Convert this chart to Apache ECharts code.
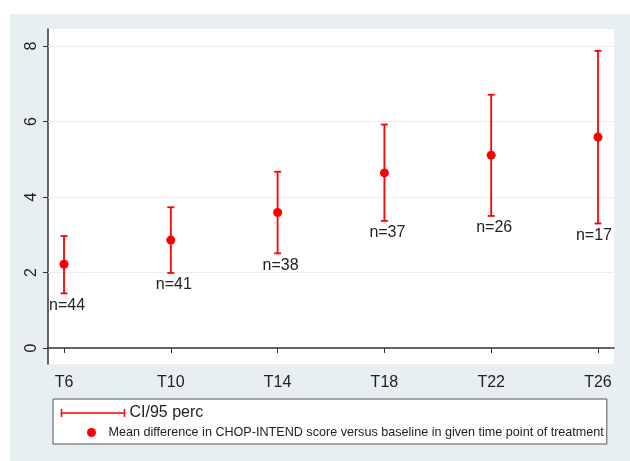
<!DOCTYPE html>
<html>
<head>
<meta charset="utf-8">
<script src="https://cdn.jsdelivr.net/npm/echarts@6/dist/echarts.min.js"></script>
<style>
html, body { margin: 0; padding: 0; background: #fff; }
#main { width: 630px; height: 461px; }
</style>
</head>
<body>
<div id="main"></div>
<script>
// time points (weeks) and values
var timePoints = [6, 10, 14, 18, 22, 26];
var meanDiff = [2.22, 2.86, 3.59, 4.64, 5.11, 5.59];
var ciLow = [1.45, 1.99, 2.51, 3.37, 3.50, 3.30];
var ciHigh = [2.97, 3.73, 4.67, 5.92, 6.71, 7.87];
var counts = [44, 41, 38, 37, 26, 17];
var yTicks = [0, 2, 4, 6, 8];
var gridValues = [2, 4, 6, 8];

var RED = '#ff0000';
var TXT = '#222';
var FONT = '"Liberation Sans", Arial, sans-serif';
var ciName = 'CI/95 perc';
var meanName = 'Mean difference in CHOP-INTEND score versus baseline in given time point of treatment';

var ciData = timePoints.map(function (t, i) { return [t, ciLow[i], ciHigh[i], counts[i]]; });
var meanData = timePoints.map(function (t, i) { return [t, meanDiff[i]]; });

var myChart = echarts.init(document.getElementById('main'));
myChart.setOption({
    animation: false,
    textStyle: { fontFamily: FONT },
    graphic: [{
        type: 'rect', left: 10, top: 14, z: -10,
        shape: { width: 620, height: 447 },
        style: { fill: '#e8eff2' }
    }],
    grid: {
        left: 48, right: 16, top: 29, bottom: 97,
        show: true, backgroundColor: '#fff', borderWidth: 0
    },
    xAxis: {
        type: 'value', min: 5.4, max: 26.6,
        splitLine: { show: false },
        axisLine: { lineStyle: { color: '#333', width: 1.5 } },
        axisTick: { show: true, length: 5, customValues: timePoints, lineStyle: { color: '#333' } },
        axisLabel: {
            customValues: timePoints, margin: 11, fontSize: 16, color: TXT, fontFamily: FONT,
            formatter: function (v) { return 'T' + v; }
        }
    },
    yAxis: {
        type: 'value', min: -0.42, max: 8.45,
        splitLine: { show: false },
        axisLine: { show: true, lineStyle: { color: '#333', width: 1.5 } },
        axisTick: { show: true, length: 5, customValues: yTicks, lineStyle: { color: '#333' } },
        axisLabel: { customValues: yTicks, rotate: 90, margin: 8, fontSize: 16, color: TXT, fontFamily: FONT }
    },
    legend: [{
        left: 59, top: 405, padding: 0,
        itemWidth: 63, itemHeight: 8,
        textStyle: { fontSize: 16, color: TXT, fontFamily: FONT },
        data: [{
            name: ciName,
            icon: 'path://M0,4L63,4M0,0L0,8M63,0L63,8',
            itemStyle: { color: 'none', borderColor: RED, borderWidth: 1.5 }
        }]
    }, {
        left: 53, top: 399, padding: [27, 3, 5, 34],
        backgroundColor: '#fff', borderColor: '#555', borderWidth: 1, borderRadius: 0,
        itemWidth: 24, itemHeight: 9, symbolKeepAspect: true,
        textStyle: { fontSize: 12.6, color: TXT, fontFamily: FONT },
        z: 1,
        data: [{ name: meanName, icon: 'circle' }]
    }],
    series: [{
        name: ciName,
        type: 'custom',
        z: 2,
        encode: { x: 0, y: [1, 2] },
        itemStyle: { color: RED },
        data: ciData,
        renderItem: function (params, api) {
            var x = api.value(0);
            var hi = api.coord([x, api.value(2)]);
            var lo = api.coord([x, api.value(1)]);
            var cap = 3.5;
            var st = { stroke: RED, lineWidth: 1.8 };
            // keep the n= label inside the plot area
            var right = params.coordSys.x + params.coordSys.width;
            var tx = lo[0] + 3, align = 'center';
            if (tx + 18 > right) { tx = right - 2; align = 'right'; }
            return {
                type: 'group',
                children: [
                    { type: 'line', shape: { x1: hi[0], y1: hi[1], x2: lo[0], y2: lo[1] }, style: st },
                    { type: 'line', shape: { x1: hi[0] - cap, y1: hi[1], x2: hi[0] + cap, y2: hi[1] }, style: st },
                    { type: 'line', shape: { x1: lo[0] - cap, y1: lo[1], x2: lo[0] + cap, y2: lo[1] }, style: st },
                    {
                        type: 'text', x: tx, y: lo[1] + 4,
                        style: {
                            text: 'n=' + api.value(3), fill: TXT,
                            font: '16px ' + FONT, align: align, verticalAlign: 'top'
                        }
                    }
                ]
            };
        },
        markLine: {
            silent: true, symbol: 'none', z: 1,
            label: { show: false },
            lineStyle: { color: '#e6eff2', width: 1, type: 'solid' },
            data: gridValues.map(function (v) { return { yAxis: v }; })
        }
    }, {
        name: meanName,
        type: 'scatter',
        z: 3,
        symbolSize: 9,
        itemStyle: { color: RED, opacity: 1 },
        data: meanData
    }]
});
</script>
</body>
</html>
